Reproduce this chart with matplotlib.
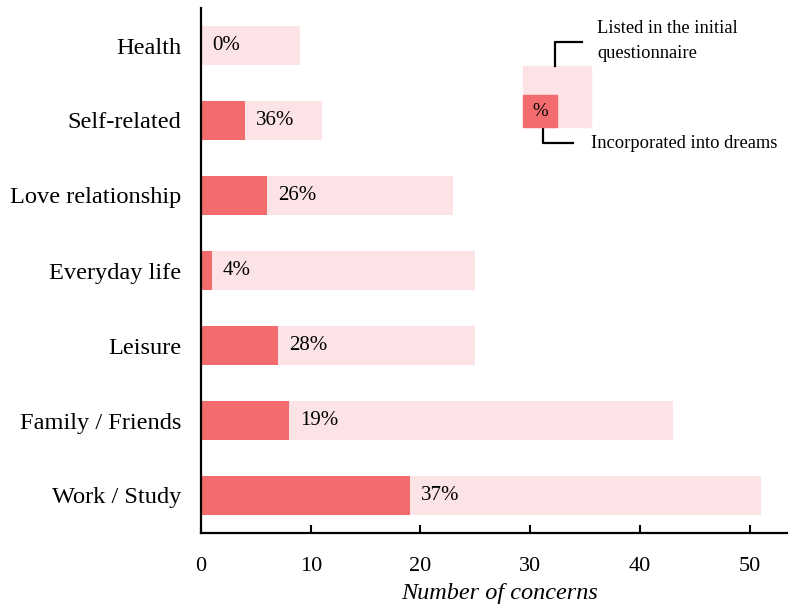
import matplotlib
matplotlib.use("Agg")
import matplotlib.pyplot as plt
from matplotlib.patches import Rectangle
from matplotlib.lines import Line2D

categories = ["Work / Study", "Family / Friends", "Leisure", "Everyday life",
              "Love relationship", "Self-related", "Health"]
listed = [51, 43, 25, 25, 23, 11, 9]
incorporated = [19, 8, 7, 1, 6, 4, 0]
percent_labels = ["37%", "19%", "28%", "4%", "26%", "36%", "0%"]
x_ticks = [0, 10, 20, 30, 40, 50]

LIGHT = "#FCE4E6"
DARK = "#F26B6D"

plt.rcParams["font.family"] = ["Liberation Serif", "DejaVu Serif"]

W, H = 789, 608
fig = plt.figure(figsize=(W / 100, H / 100), dpi=100)
ax = fig.add_axes([201 / W, 1 - 533 / H, (787 - 201) / W, (533 - 8) / H])

y = list(range(len(categories)))
ax.barh(y, listed, height=0.52, color=LIGHT, zorder=1)
ax.barh(y, incorporated, height=0.52, color=DARK, zorder=2)

for yi, inc, lab in zip(y, incorporated, percent_labels):
    ax.text(inc + 1.0, yi, lab, va="center", ha="left", fontsize=15, zorder=3)

ax.set_xlim(0, 53.4)
ax.set_ylim(-0.5, 6.5)
ax.set_yticks(y)
ax.set_yticklabels(categories, fontsize=17.6)
ax.set_xticks(x_ticks)
ax.set_xticklabels([str(t) for t in x_ticks], fontsize=16)
ax.tick_params(axis="y", length=0, pad=14)
ax.tick_params(axis="x", direction="in", length=6, width=1.5, pad=17)
ax.set_xlabel("Number of concerns", fontsize=17.5, style="italic", labelpad=5)
ax.xaxis.label.set_x(0.51)
for s in ["top", "right"]:
    ax.spines[s].set_visible(False)
for s in ["left", "bottom"]:
    ax.spines[s].set_linewidth(1.6)


def fx(px):
    return px / W


def fy(py):
    return 1 - py / H


# key explaining the two bar layers
fig.patches.append(Rectangle((fx(523), fy(127)), fx(591) - fx(523), fy(66) - fy(127),
                             transform=fig.transFigure, color=LIGHT, zorder=1))
fig.patches.append(Rectangle((fx(523), fy(127)), fx(557) - fx(523), fy(95) - fy(127),
                             transform=fig.transFigure, color=DARK, zorder=2))
fig.text(fx(540), fy(112), "%", ha="center", va="center", fontsize=13.5)
fig.lines.append(Line2D([fx(555), fx(555), fx(582)], [fy(66), fy(42), fy(42)],
                        transform=fig.transFigure, color="black", lw=1.6))
fig.lines.append(Line2D([fx(543), fx(543), fx(573)], [fy(127), fy(143), fy(143)],
                        transform=fig.transFigure, color="black", lw=1.6))
fig.text(fx(597), fy(41), "Listed in the initial\nquestionnaire", ha="left", va="center",
         fontsize=13.3, linespacing=1.6)
fig.text(fx(591), fy(143), "Incorporated into dreams", ha="left", va="center", fontsize=13.3)

fig.savefig("out.png", dpi=100)
